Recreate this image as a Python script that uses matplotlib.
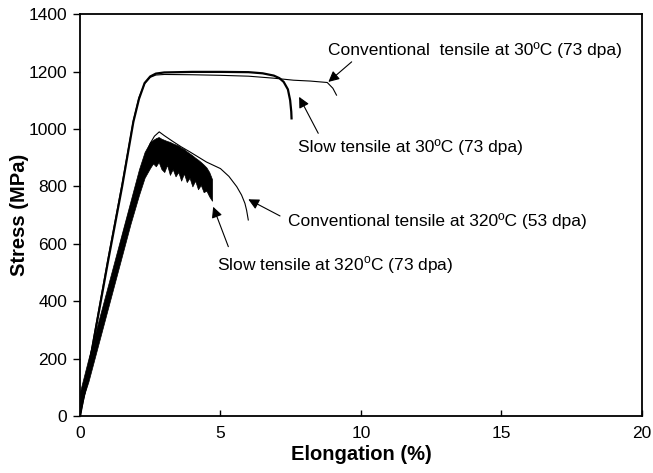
import matplotlib
matplotlib.use('Agg')
import matplotlib.pyplot as plt

plt.rcParams['font.family'] = ['Liberation Sans', 'DejaVu Sans']
plt.rcParams['mathtext.fontset'] = 'custom'
plt.rcParams['mathtext.rm'] = 'Liberation Sans'

# conventional tensile at 30C
conv30_x = [0, 0.5, 1.0, 1.5, 1.9, 2.1, 2.3, 2.5, 2.7, 3.0, 4.0, 5.0, 6.0, 6.9, 7.6, 8.2, 8.8, 9.0, 9.13]
conv30_y = [0, 280, 550, 810, 1030, 1110, 1158, 1180, 1188, 1190, 1189, 1187, 1184, 1177, 1170, 1167, 1162, 1142, 1118]

# slow tensile at 30C
slow30_x = [0, 0.5, 1.0, 1.5, 1.9, 2.1, 2.3, 2.5, 2.7, 3.0, 4.0, 5.0, 6.0, 6.5, 6.9, 7.1, 7.25, 7.4, 7.48, 7.52, 7.53]
slow30_y = [0, 270, 540, 800, 1025, 1105, 1160, 1183, 1193, 1197, 1199, 1199, 1198, 1194, 1186, 1177, 1164, 1138, 1100, 1060, 1037]

# conventional tensile at 320C
conv320_x = [0, 0.5, 1.0, 1.5, 2.0, 2.3, 2.5, 2.65, 2.82, 3.0, 3.3, 3.6, 3.9, 4.2, 4.5, 5.0, 5.3, 5.58, 5.75, 5.87, 5.93, 5.99]
conv320_y = [0, 220, 420, 620, 800, 900, 950, 975, 990, 977, 957, 938, 921, 903, 885, 862, 835, 799, 770, 741, 717, 683]

# slow tensile at 320C (serrated band: upper / lower envelope)
slow320_x = [0, 0.3, 0.6, 0.9, 1.2, 1.5, 1.8, 2.1, 2.3, 2.5, 2.6, 2.7, 2.8, 2.9, 3.0, 3.1, 3.2, 3.3, 3.4, 3.5,
             3.6, 3.7, 3.8, 3.9, 4.0, 4.1, 4.2, 4.3, 4.4, 4.5, 4.6, 4.7]
slow320_hi = [85, 200, 310, 420, 530, 640, 750, 860, 920, 955, 962, 968, 972, 966, 962, 958, 955, 950, 946, 942,
              935, 930, 922, 915, 908, 900, 893, 885, 876, 866, 850, 825]
slow320_lo = [30, 120, 230, 340, 450, 560, 670, 770, 830, 865, 880, 870, 885, 860, 850, 875, 840, 860, 835, 850,
              820, 845, 815, 830, 800, 820, 790, 805, 780, 785, 765, 750]

fig = plt.figure(figsize=(6.53, 4.73), dpi=100)
ax = fig.add_axes([0.1225, 0.1205, 0.8605, 0.8495])

ax.plot(conv30_x, conv30_y, color='black', lw=0.8)
ax.plot(slow30_x, slow30_y, color='black', lw=1.6)
ax.fill_between(slow320_x, slow320_lo, slow320_hi, color='black', lw=0.5)
ax.plot(conv320_x, conv320_y, color='black', lw=0.8)

ax.set_xlim(0, 20)
ax.set_ylim(0, 1400)
ax.set_xticks([0, 5, 10, 15, 20])
ax.set_yticks(range(0, 1401, 200))
ax.tick_params(axis='x', direction='in', length=4, width=1, labelsize=12.5, pad=7)
ax.tick_params(axis='y', direction='out', length=5, width=1, labelsize=12.5, pad=4)
for s in ax.spines.values():
    s.set_linewidth(1.3)

ax.set_xlabel('Elongation (%)', fontsize=14.5, fontweight='bold', labelpad=3)
ax.set_ylabel('Stress (MPa)', fontsize=14.5, fontweight='bold', labelpad=0)

arrow = dict(arrowstyle='-|>', color='black', lw=0.8, mutation_scale=16, shrinkA=0, shrinkB=0)
fs = 12.5
ax.annotate('', xy=(8.84, 1164), xytext=(9.67, 1234), arrowprops=arrow)
ax.text(8.83, 1275, 'Conventional  tensile at 30ºC (73 dpa)', fontsize=fs, va='center')
ax.annotate('', xy=(7.8, 1112), xytext=(8.48, 985), arrowprops=arrow)
ax.text(7.76, 938, 'Slow tensile at 30ºC (73 dpa)', fontsize=fs, va='center')
ax.annotate('', xy=(5.99, 755), xytext=(7.12, 697), arrowprops=arrow)
ax.text(7.41, 680, 'Conventional tensile at 320ºC (53 dpa)', fontsize=fs, va='center')
ax.annotate('', xy=(4.74, 729), xytext=(5.28, 590), arrowprops=arrow)
ax.text(4.86, 526, 'Slow tensile at 320$^{\\rm o}$C (73 dpa)', fontsize=fs, va='center')

fig.savefig('out.png', dpi=100)
